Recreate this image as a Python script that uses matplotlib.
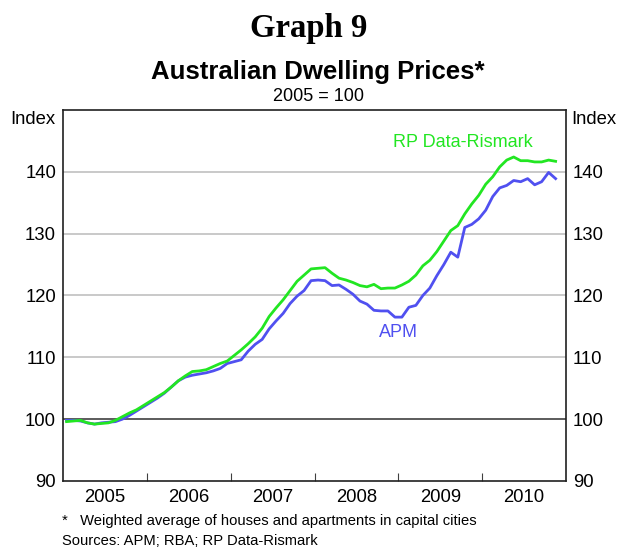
import numpy as np
import matplotlib
matplotlib.use('Agg')
import matplotlib.pyplot as plt

plt.rcParams['font.family'] = ['Liberation Sans', 'DejaVu Sans']

# monthly index values, Jan 2005 - Nov 2010 (2005 = 100)
start_year = 2005
rp_data = [99.6, 99.7, 99.8, 99.4, 99.2, 99.3, 99.4, 99.8, 100.4, 101.0, 101.5, 102.2,
           102.9, 103.6, 104.3, 105.2, 106.2, 107.0, 107.7, 107.8, 108.0, 108.5, 109.0, 109.4,
           110.3, 111.2, 112.2, 113.3, 114.7, 116.6, 118.0, 119.3, 120.8, 122.3, 123.3, 124.3,
           124.4, 124.5, 123.6, 122.8, 122.5, 122.1, 121.6, 121.4, 121.8, 121.1, 121.2, 121.2,
           121.7, 122.3, 123.3, 124.8, 125.7, 127.1, 128.8, 130.5, 131.3, 133.2, 134.8, 136.2,
           138.0, 139.2, 140.8, 141.9, 142.4, 141.8, 141.8, 141.6, 141.6, 141.9, 141.7]
apm = [99.8, 99.8, 99.7, 99.4, 99.2, 99.4, 99.5, 99.6, 100.0, 100.6, 101.3, 102.0,
       102.7, 103.4, 104.2, 105.2, 106.2, 106.8, 107.1, 107.3, 107.5, 107.8, 108.2, 109.0,
       109.3, 109.6, 111.0, 112.1, 112.9, 114.6, 115.9, 117.1, 118.7, 119.9, 120.8, 122.4,
       122.5, 122.4, 121.6, 121.7, 121.0, 120.2, 119.1, 118.6, 117.6, 117.5, 117.5, 116.5,
       116.5, 118.1, 118.4, 120.0, 121.2, 123.2, 125.0, 127.0, 126.2, 131.0, 131.5, 132.4,
       133.8, 136.0, 137.4, 137.8, 138.6, 138.4, 138.9, 137.9, 138.4, 139.9, 138.9]
years = [2005, 2006, 2007, 2008, 2009, 2010]
yticks = [90, 100, 110, 120, 130, 140]

green = '#22e622'
blue = '#5050f0'

t = start_year + (np.arange(len(rp_data)) + 0.5) / 12.0

fig = plt.figure(figsize=(6.18, 5.5), dpi=100)
ax = fig.add_axes([0.102, 0.1255, 0.814, 0.6745])

for v in [110, 120, 130, 140]:
    ax.axhline(v, color='#c0c0c0', lw=1.2, zorder=1)
ax.axhline(100, color='#404040', lw=1.2, zorder=1)

ax.plot(t, rp_data, color=green, lw=2.0, zorder=3)
ax.plot(t, apm, color=blue, lw=2.0, zorder=2)

ax.set_xlim(2005, 2011)
ax.set_ylim(90, 150)
ax.set_yticks(yticks)
ax.tick_params(axis='y', length=0, labelsize=13.3, labelright=True, right=False, pad=5)
ax.set_xticks(np.arange(2006, 2011))
ax.set_xticklabels([])
ax.tick_params(axis='x', direction='in', length=6, width=0.8, color='#404040')
ax.set_xticks([y + 0.5 for y in years], minor=True)
ax.set_xticklabels([str(y) for y in years], minor=True, fontsize=13.3)
ax.tick_params(axis='x', which='minor', length=0, pad=6)
for s in ax.spines.values():
    s.set_color('#202020')
    s.set_linewidth(1.2)

ax.text(2008.93, 144.7, 'RP Data-Rismark', color=green, fontsize=13, va='center')
ax.text(2008.77, 114.0, 'APM', color=blue, fontsize=13, va='center')

fig.text(0.053, 0.782, 'Index', fontsize=13.3, ha='center', va='center')
fig.text(0.961, 0.782, 'Index', fontsize=13.3, ha='center', va='center')

fig.text(0.5, 0.948, 'Graph 9', family='Liberation Serif', weight='bold',
         fontsize=23.6, ha='center', va='center')
fig.text(0.515, 0.869, 'Australian Dwelling Prices*', weight='bold',
         fontsize=18.5, ha='center', va='center')
fig.text(0.515, 0.825, '2005 = 100', fontsize=13, ha='center', va='center')

fig.text(0.1, 0.053, '*   Weighted average of houses and apartments in capital cities',
         fontsize=10.6, va='center')
fig.text(0.1, 0.017, 'Sources: APM; RBA; RP Data-Rismark', fontsize=10.6, va='center')

fig.savefig('out.png', dpi=100)
